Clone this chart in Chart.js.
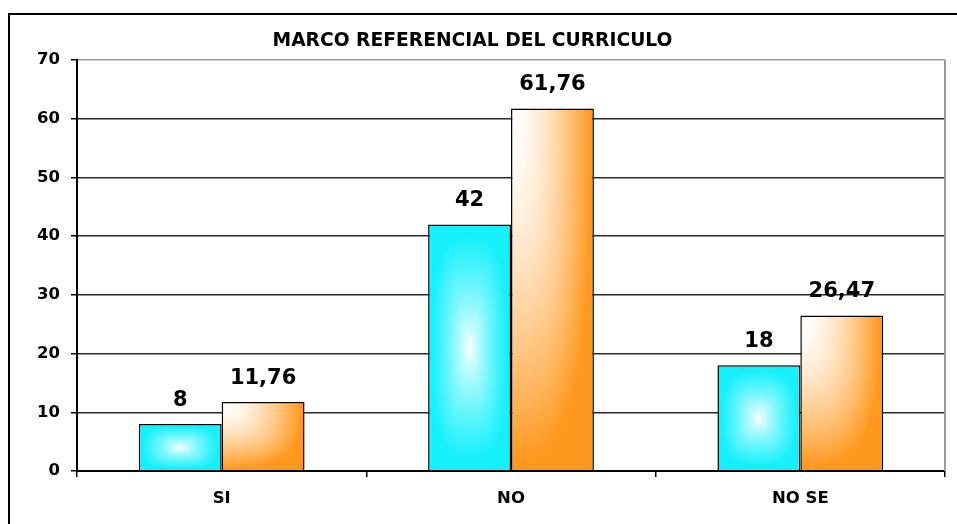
<!DOCTYPE html>
<html>
<head>
<meta charset="utf-8">
<script src="https://cdn.jsdelivr.net/npm/chart.js@4/dist/chart.umd.min.js"></script>
<style>
  html, body { margin: 0; padding: 0; background: #fff; overflow: hidden; }
  #wrap { position: relative; width: 957px; height: 524px; }
  #frame {
    position: absolute; left: 8px; top: 13px; width: 2000px; height: 2000px;
    border-left: 2px solid #000; border-top: 2px solid #000; pointer-events: none;
  }
  canvas { position: absolute; left: 0; top: 0; }
</style>
</head>
<body>
<div id="wrap">
  <div id="frame"></div>
  <canvas id="chart" width="957" height="524"></canvas>
</div>
<script>
const titleText = "MARCO REFERENCIAL DEL CURRICULO";
const categories = ["SI", "NO", "NO SE"];
const serie1 = [8, 42, 18];
const serie2 = [11.76, 61.76, 26.47];
const yMin = 0;
const yMax = 70;
const yStep = 10;

const CAT_PCT = 0.573;
const FONT = "'DejaVu Sans', sans-serif";

// soft rectangular gradients like the old spreadsheet fills, cached by size
const patternCache = {};
const makeFill = (kind, w, h) => {
  w = Math.max(1, Math.round(w));
  h = Math.max(1, Math.round(h));
  const key = `${kind}-${w}-${h}`;
  if (patternCache[key]) return patternCache[key];
  const c = document.createElement("canvas");
  c.width = w;
  c.height = h;
  const g = c.getContext("2d");
  const img = g.createImageData(w, h);
  const edge = kind === "cyan" ? [22, 240, 252] : [255, 152, 30];
  const p = 3;
  for (let y = 0; y < h; y++) {
    for (let x = 0; x < w; x++) {
      let s;
      if (kind === "cyan") {
        const dx = Math.abs(x + 0.5 - w / 2) / (w / 2);
        const dy = Math.abs(y + 0.5 - h / 2) / (h / 2);
        const t = Math.pow(Math.pow(dx, p) + Math.pow(dy, p), 1 / p);
        s = Math.pow(Math.min(1, t / 0.9), 0.8);
      } else {
        const dx = (x + 0.5) / w;
        const dy = (y + 0.5) / h;
        const t = Math.pow(Math.pow(dx, p) + Math.pow(dy, p), 1 / p);
        s = Math.pow(Math.min(1, t / 0.97), 1.6);
      }
      const i = (y * w + x) * 4;
      img.data[i] = 255 + (edge[0] - 255) * s;
      img.data[i + 1] = 255 + (edge[1] - 255) * s;
      img.data[i + 2] = 255 + (edge[2] - 255) * s;
      img.data[i + 3] = 255;
    }
  }
  g.putImageData(img, 0, 0);
  patternCache[key] = c;
  return c;
};

const barFill = (kind, solid) => (ctx) => {
  if (ctx.type !== "data") return solid;
  const chart = ctx.chart;
  const xs = chart.scales.x;
  const ys = chart.scales.y;
  if (!xs || !ys || !xs.width) return solid;
  const cat = xs.width / categories.length;
  const full = cat * CAT_PCT;
  const w = full / 2;
  const left = xs.getPixelForValue(ctx.dataIndex) - full / 2 + ctx.datasetIndex * w;
  const top = ys.getPixelForValue(ctx.raw);
  const bottom = ys.getPixelForValue(0);
  const h = bottom - top;
  if (!(h > 0)) return solid;
  const pat = chart.ctx.createPattern(makeFill(kind, w, h), "no-repeat");
  pat.setTransform(new DOMMatrix([w / Math.round(w), 0, 0, h / Math.round(h), left, top]));
  return pat;
};

const valueLabels = {
  id: "valueLabels",
  afterDatasetsDraw(chart) {
    const ctx = chart.ctx;
    ctx.save();
    ctx.font = `bold 21px ${FONT}`;
    ctx.fillStyle = "#000";
    ctx.textAlign = "center";
    ctx.textBaseline = "alphabetic";
    chart.data.datasets.forEach((ds, di) => {
      chart.getDatasetMeta(di).data.forEach((el, i) => {
        const txt = String(ds.data[i]).replace(".", ",");
        ctx.fillText(txt, el.x, el.y - 26 + 7.6);
      });
    });
    ctx.restore();
  },
};

const plotBorder = {
  id: "plotBorder",
  beforeDatasetsDraw(chart) {
    const { ctx, chartArea } = chart;
    ctx.save();
    ctx.strokeStyle = "#9a9a9a";
    ctx.lineWidth = 2;
    ctx.beginPath();
    ctx.moveTo(chartArea.right, chartArea.top);
    ctx.lineTo(chartArea.right, chartArea.bottom);
    ctx.stroke();
    ctx.restore();
  },
};

new Chart(document.getElementById("chart"), {
  type: "bar",
  data: {
    labels: categories,
    datasets: [
      {
        label: "Serie 1",
        data: serie1,
        backgroundColor: barFill("cyan", "rgb(22,240,252)"),
        borderColor: "#000",
        borderWidth: 1.5,
        categoryPercentage: CAT_PCT,
        barPercentage: 1,
      },
      {
        label: "Serie 2",
        data: serie2,
        backgroundColor: barFill("orange", "rgb(255,152,30)"),
        borderColor: "#000",
        borderWidth: 1.5,
        categoryPercentage: CAT_PCT,
        barPercentage: 1,
      },
    ],
  },
  options: {
    responsive: false,
    animation: false,
    layout: { padding: { left: 0, top: 0, right: 12, bottom: 0 } },
    scales: {
      x: {
        afterFit: (scale) => { scale.height = 53; },
        grid: {
          drawOnChartArea: false,
          color: "#000",
          lineWidth: 1.5,
          tickLength: 6,
        },
        border: { color: "#000", width: 2 },
        ticks: {
          color: "#000",
          padding: 12,
          font: { family: FONT, weight: "bold", size: 16.5 },
        },
      },
      y: {
        min: yMin,
        max: yMax,
        afterFit: (scale) => { scale.width = 77; },
        grid: {
          color: (c) => (c.tick && c.tick.value === yMax ? "#9a9a9a" : "#2a2a2a"),
          tickColor: "#000",
          lineWidth: 1.5,
          tickLength: 6,
        },
        border: { color: "#000", width: 2 },
        ticks: {
          stepSize: yStep,
          color: "#000",
          padding: 11,
          font: { family: FONT, weight: "bold", size: 16.5 },
        },
      },
    },
    plugins: {
      legend: { display: false },
      tooltip: { enabled: false },
      title: {
        display: true,
        text: titleText,
        color: "#000",
        font: { family: FONT, weight: "bold", size: 18.7, lineHeight: 1.2 },
        padding: { top: 29.5, bottom: 8.1 },
      },
    },
  },
  plugins: [valueLabels, plotBorder],
});
</script>
</body>
</html>
